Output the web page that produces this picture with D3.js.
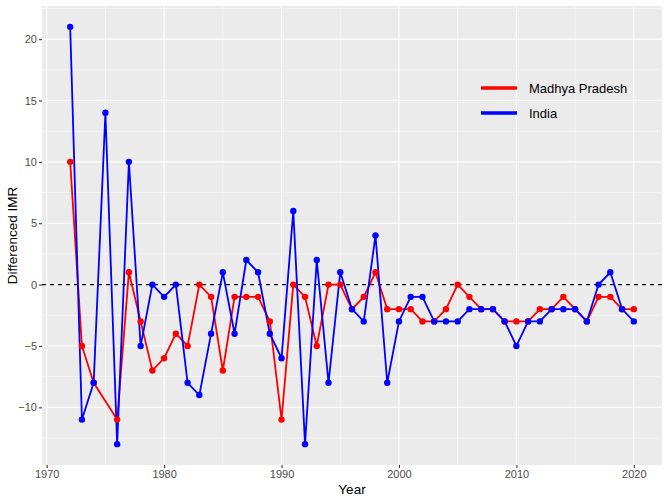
<!DOCTYPE html>
<html>
<head>
<meta charset="utf-8">
<script src="https://cdn.jsdelivr.net/npm/d3@7"></script>
<style>
  body { margin: 0; background: #fff; }
  text { font-family: Arial, "Liberation Sans", sans-serif; }
</style>
</head>
<body>
<div id="vis-holder"></div>
<script>
// Data
const years = d3.range(1972, 2021);
const mpValues = [10, -5, -8, null, -11, 1, -3, -7, -6, -4,
                  -5, 0, -1, -7, -1, -1, -1, -3, -11, 0,
                  -1, -5, 0, 0, -2, -1, 1, -2, -2, -2,
                  -3, -3, -2, 0, -1, -2, -2, -3, -3, -3,
                  -2, -2, -1, -2, -3, -1, -1, -2, -2];
const indiaValues = [21, -11, -8, 14, -13, 10, -5, 0, -1, 0,
                     -8, -9, -4, 1, -4, 2, 1, -4, -6, 6,
                     -13, 2, -8, 1, -2, -3, 4, -8, -3, -1,
                     -1, -3, -3, -3, -2, -2, -2, -3, -5, -3,
                     -3, -2, -2, -2, -3, 0, 1, -2, -3];
const seriesNames = ["Madhya Pradesh", "India"];
const seriesColors = ["#FF0000", "#0000FF"];
const xTicks = [1970, 1980, 1990, 2000, 2010, 2020];
const yTicks = [-10, -5, 0, 5, 10, 15, 20];

const width = 669;
const height = 502;
const margin = { top: 6, right: 7, bottom: 37, left: 42 };

const svg = d3.select("#vis-holder")
              .append("svg")
              .attr("width", width)
              .attr("height", height);

const series = [mpValues, indiaValues].map((vals, i) => ({
  name: seriesNames[i],
  color: seriesColors[i],
  points: years.map((y, j) => ({ year: y, value: vals[j] })).filter(d => d.value !== null)
}));

// Scales with ggplot-like 5% expansion
const allVals = mpValues.concat(indiaValues).filter(v => v !== null);
const yMin = d3.min(allVals), yMax = d3.max(allVals);
const yPad = (yMax - yMin) * 0.05;
const xPad = (d3.max(years) - d3.min(years)) * 0.05;

const x = d3.scaleLinear()
            .domain([d3.min(years) - xPad, d3.max(years) + xPad])
            .range([margin.left, width - margin.right]);

const y = d3.scaleLinear()
            .domain([yMin - yPad, yMax + yPad])
            .range([height - margin.bottom, margin.top]);

// Panel background
svg.append("rect")
   .attr("x", margin.left)
   .attr("y", margin.top)
   .attr("width", width - margin.left - margin.right)
   .attr("height", height - margin.top - margin.bottom)
   .attr("fill", "#EBEBEB");

// Grid lines (minor then major)
const grid = svg.append("g");
const yMinor = d3.range(-12.5, 22.6, 5);
const xMinor = d3.range(1975, 2021, 10);

grid.selectAll(".ymin").data(yMinor).enter().append("line")
    .attr("x1", margin.left).attr("x2", width - margin.right)
    .attr("y1", d => y(d)).attr("y2", d => y(d))
    .attr("stroke", "#fff").attr("stroke-width", 0.55);
grid.selectAll(".xmin").data(xMinor).enter().append("line")
    .attr("y1", margin.top).attr("y2", height - margin.bottom)
    .attr("x1", d => x(d)).attr("x2", d => x(d))
    .attr("stroke", "#fff").attr("stroke-width", 0.55);
grid.selectAll(".ymaj").data(yTicks).enter().append("line")
    .attr("x1", margin.left).attr("x2", width - margin.right)
    .attr("y1", d => y(d)).attr("y2", d => y(d))
    .attr("stroke", "#fff").attr("stroke-width", 1.1);
grid.selectAll(".xmaj").data(xTicks).enter().append("line")
    .attr("y1", margin.top).attr("y2", height - margin.bottom)
    .attr("x1", d => x(d)).attr("x2", d => x(d))
    .attr("stroke", "#fff").attr("stroke-width", 1.1);

// Axes
const xAxis = svg.append("g")
    .attr("transform", `translate(0,${height - margin.bottom})`)
    .call(d3.axisBottom(x).tickValues(xTicks).tickFormat(d3.format("d")).tickSize(3).tickPadding(2));
const yAxis = svg.append("g")
    .attr("transform", `translate(${margin.left},0)`)
    .call(d3.axisLeft(y).tickValues(yTicks).tickSize(3).tickPadding(2));

[xAxis, yAxis].forEach(g => {
  g.select(".domain").remove();
  g.selectAll(".tick line").attr("stroke", "#333").attr("stroke-width", 1.1);
  g.selectAll(".tick text").attr("fill", "#4D4D4D").attr("font-size", "11px");
});

// Zero reference line
svg.append("line")
   .attr("x1", margin.left).attr("x2", width - margin.right)
   .attr("y1", y(0)).attr("y2", y(0))
   .attr("stroke", "#000").attr("stroke-width", 1.1)
   .attr("stroke-dasharray", "4,4");

// Lines and points
const line = d3.line().x(d => x(d.year)).y(d => y(d.value));

series.forEach(s => {
  svg.append("path")
     .datum(s.points)
     .attr("d", line)
     .attr("fill", "none")
     .attr("stroke", s.color)
     .attr("stroke-width", 1.8);
});
series.forEach(s => {
  svg.selectAll(null)
     .data(s.points)
     .enter()
     .append("circle")
     .attr("cx", d => x(d.year))
     .attr("cy", d => y(d.value))
     .attr("r", 3.2)
     .attr("fill", s.color);
});

// Axis titles
svg.append("text")
   .attr("x", (margin.left + width - margin.right) / 2)
   .attr("y", height - 8)
   .attr("text-anchor", "middle")
   .attr("font-size", "13.5px")
   .attr("fill", "#000")
   .text("Year");

svg.append("text")
   .attr("transform", `translate(17,${(margin.top + height - margin.bottom) / 2}) rotate(-90)`)
   .attr("text-anchor", "middle")
   .attr("font-size", "13.5px")
   .attr("fill", "#000")
   .text("Differenced IMR");

// Legend
const legend = svg.append("g").attr("transform", "translate(481,88)");
series.forEach((s, i) => {
  const g = legend.append("g").attr("transform", `translate(0,${i * 25})`);
  g.append("line")
   .attr("x1", 0).attr("x2", 36)
   .attr("stroke", s.color).attr("stroke-width", 3.5);
  g.append("text")
   .attr("x", 48).attr("y", 0)
   .attr("dy", "0.35em")
   .attr("font-size", "13px")
   .attr("fill", "#000")
   .text(s.name);
});
</script>
</body>
</html>
